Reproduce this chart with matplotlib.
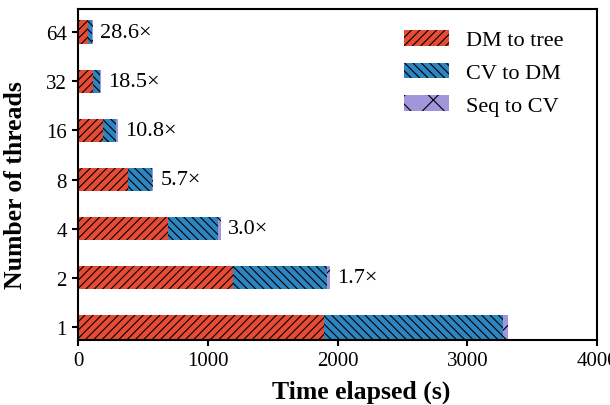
import matplotlib
matplotlib.use("Agg")
import matplotlib.pyplot as plt
import numpy as np

# Data
threads = ["1", "2", "4", "8", "16", "32", "64"]
dm_to_tree = [1895, 1195, 694, 383, 192, 116, 79]
cv_to_dm = [1380, 725, 386, 187, 104, 55, 30]
seq_to_cv = [35, 20, 23, 11, 10, 8, 7]
speedups = ["", "1.7×", "3.0×", "5.7×", "10.8×", "18.5×", "28.6×"]

plt.rcParams["font.family"] = ["Liberation Serif", "DejaVu Serif"]
plt.rcParams["hatch.linewidth"] = 0.8

fig = plt.figure(figsize=(6.1, 4.06), dpi=100)
ax = fig.add_axes([0.128, 0.160, 0.851, 0.815])

y = np.arange(len(threads))
dm = np.array(dm_to_tree)
cv = np.array(cv_to_dm)
sq = np.array(seq_to_cv)
h = 0.48

ax.barh(y, dm, height=h, color="#E64B35", edgecolor="black", linewidth=0,
        hatch="////", label="DM to tree")
ax.barh(y, cv, left=dm, height=h, color="#2E86C1", edgecolor="black",
        linewidth=0, hatch="\\\\\\\\", label="CV to DM")
ax.barh(y, sq, left=dm + cv, height=h, color="#A195DB", edgecolor="black",
        linewidth=0, hatch="x", label="Seq to CV")

totals = dm + cv + sq
for yi, tot, s in zip(y, totals, speedups):
    if s:
        ax.annotate(s, (tot, yi), xytext=(5, 0), textcoords="offset points",
                    va="center", ha="left", fontsize=16)

ax.set_xlim(0, 4000)
ax.set_ylim(-0.27, 6.47)
ax.set_xticks([0, 1000, 2000, 3000, 4000])
ax.set_yticks(y)
ax.set_yticklabels(threads)
ax.tick_params(direction="out", length=4.5, width=1.5, labelsize=15)
for sp in ax.spines.values():
    sp.set_linewidth(1.5)

ax.set_xlabel("Time elapsed (s)", fontsize=18.5, fontweight="bold")
ax.set_ylabel("Number of threads", fontsize=18.5, fontweight="bold")
ax.xaxis.set_label_coords(0.546, -0.118)
ax.yaxis.set_label_coords(-0.098, 0.471)

ax.legend(loc="upper left", bbox_to_anchor=(0.628, 0.938), frameon=False,
          fontsize=16, handlelength=2.0, handleheight=0.72, handletextpad=0.8,
          labelspacing=0.55, borderpad=0, borderaxespad=0)

fig.savefig("out.png", dpi=100)
